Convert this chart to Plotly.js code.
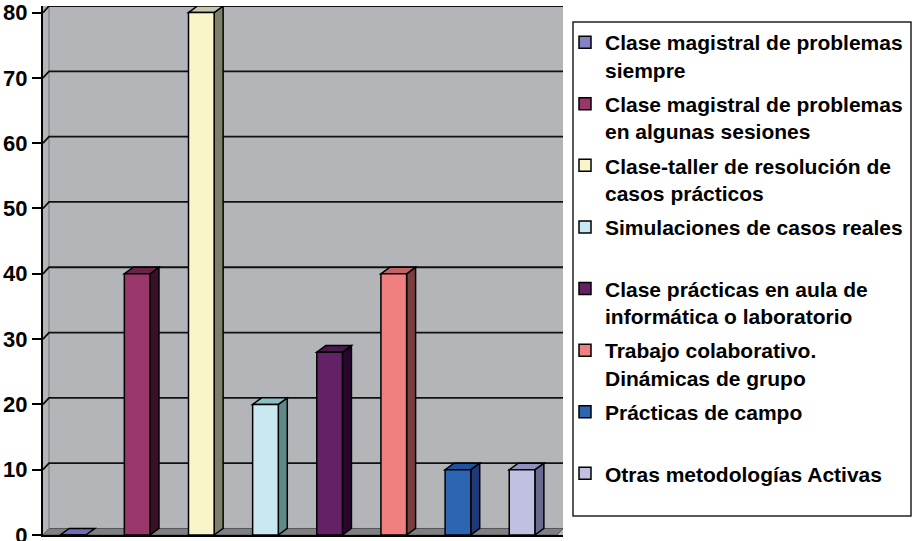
<!DOCTYPE html>
<html>
<head>
<meta charset="utf-8">
<script src="https://cdn.plot.ly/plotly-3.0.1.min.js"></script>
<style>html,body{margin:0;padding:0;background:#fff;}#chart{width:914px;height:541px;}</style>
</head>
<body>
<div id="chart"></div>
<script>
// ---- data ----
const seriesNames = [
  'Clase magistral de problemas<br>siempre',
  'Clase magistral de problemas<br>en algunas sesiones',
  'Clase-taller de resolución de<br>casos prácticos',
  'Simulaciones de casos reales',
  'Clase prácticas en aula de<br>informática o laboratorio',
  'Trabajo colaborativo.<br>Dinámicas de grupo',
  'Prácticas de campo',
  'Otras metodologías Activas'
];
const values = [0, 40, 80, 20, 28, 40, 10, 10];
const frontColors = ['#8282c4', '#9a376a', '#f8f5c8', '#c8e8f2', '#632266', '#f08080', '#2c66b2', '#c0c0e0'];
const sideColors  = ['#5a5a90', '#3a0f28', '#7c8068', '#5e8a8c', '#2a0530', '#7a4040', '#1e3a78', '#6a6a90'];
const topColors   = ['#6e6eb4', '#6a2448', '#c8c8a8', '#88c0c8', '#4a1a4a', '#c06464', '#2050a0', '#9090c0'];
const yTicks = [0, 10, 20, 30, 40, 50, 60, 70, 80];

// ---- geometry (style) ----
const xMin = -0.468, xMax = 7.638;
const barW = 0.4, dx = 0.14, dy = 1.0, wallDx = 0.094;
const font = 'Arial, "Liberation Sans", sans-serif';

const traces = values.map((v, i) => ({
  type: 'bar',
  x: [i],
  y: [v],
  width: barW,
  name: seriesNames[i].indexOf('<br>') >= 0 ? seriesNames[i] : seriesNames[i] + '<br>\u00a0',
  legendgroup: 'g' + i,
  marker: { color: frontColors[i], line: { color: '#000', width: 1.5 } },
  hoverinfo: 'y+name'
}));

const shapes = [];
// floor
shapes.push({ type: 'path', xref: 'x', yref: 'y', layer: 'below',
  path: `M${xMin},0 L${xMin + wallDx},${dy} L${xMax},${dy} L${xMax - wallDx},0 Z`,
  fillcolor: '#7f8083', line: { color: '#555', width: 1 } });
// left wall edge
shapes.push({ type: 'line', xref: 'x', yref: 'y', layer: 'below',
  x0: xMin + wallDx, x1: xMin + wallDx, y0: dy, y1: 81, line: { color: '#8a8b8f', width: 1.5 } });
// gridlines on the back wall
yTicks.filter(t => t > 0).forEach(t => {
  shapes.push({ type: 'path', xref: 'x', yref: 'y', layer: 'below',
    path: `M${xMin},${t} L${xMin + wallDx},${t + dy} L${xMax},${t + dy}`,
    line: { color: '#111', width: 1.8 } });
});
// 3D side and top faces
values.forEach((v, i) => {
  const x0 = i - barW / 2, x1 = i + barW / 2;
  if (v > 0) {
    shapes.push({ type: 'path', xref: 'x', yref: 'y', layer: 'below',
      path: `M${x1},0 L${x1},${v} L${x1 + dx},${v + dy} L${x1 + dx},${dy} Z`,
      fillcolor: sideColors[i], line: { color: '#000', width: 1.5 } });
  }
  shapes.push({ type: 'path', xref: 'x', yref: 'y', layer: 'below',
    path: `M${x0},${v} L${x1},${v} L${x1 + dx},${v + dy} L${x0 + dx},${v + dy} Z`,
    fillcolor: topColors[i], line: { color: '#000', width: 1.5 } });
});
// legend frame
shapes.push({ type: 'rect', xref: 'paper', yref: 'paper',
  x0: (573 - 43) / 520, x1: (911 - 43) / 520, y0: (535 - 516) / 529, y1: (535 - 22) / 529,
  line: { color: '#222', width: 1.5 }, fillcolor: 'rgba(0,0,0,0)' });

const layout = {
  width: 914, height: 541,
  margin: { l: 43, r: 351, t: 6, b: 6, pad: 0 },
  paper_bgcolor: '#ffffff',
  plot_bgcolor: '#b4b5b9',
  barmode: 'overlay',
  showlegend: true,
  font: { family: font, color: '#000' },
  xaxis: {
    range: [xMin, xMax], showticklabels: false, ticks: '', showgrid: false, zeroline: false,
    showline: true, linecolor: '#000', linewidth: 2, fixedrange: true
  },
  yaxis: {
    range: [0, 81], tickvals: yTicks, ticktext: yTicks.map(String),
    ticks: 'outside', ticklen: 9, tickwidth: 2, tickcolor: '#000',
    ticklabeloverflow: 'allow',
    tickfont: { family: font, size: 22, weight: 'bold', color: '#000' },
    showgrid: false, zeroline: false, showline: true, linecolor: '#000', linewidth: 2
  },
  legend: {
    x: (565 - 43) / 520, xanchor: 'left',
    y: (535 - 22) / 529, yanchor: 'top',
    bgcolor: 'rgba(0,0,0,0)', borderwidth: 0,
    font: { family: font, size: 21, weight: 'bold', color: '#000' },
    traceorder: 'grouped', tracegroupgap: 4, valign: 'top', itemclick: false
  },
  shapes: shapes
};

Plotly.newPlot('chart', traces, layout, { displayModeBar: false, staticPlot: true });
</script>
</body>
</html>
